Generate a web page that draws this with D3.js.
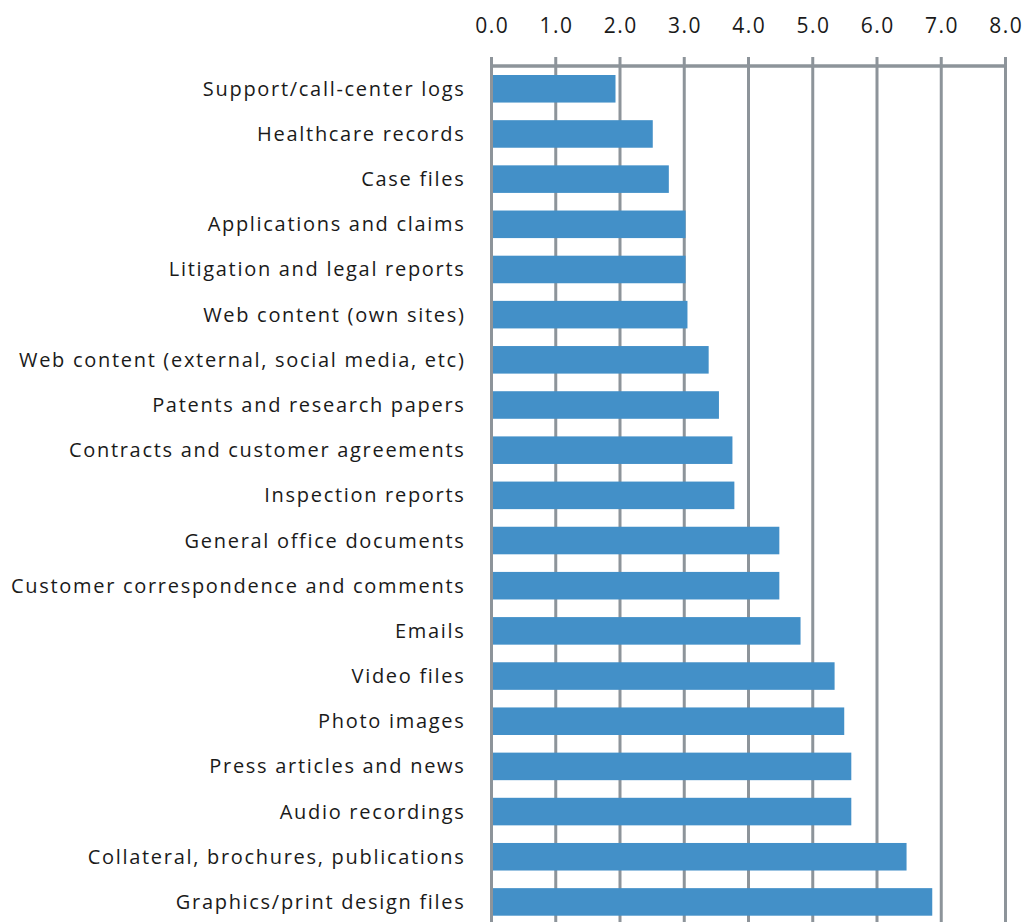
<!DOCTYPE html>
<html>
<head>
<meta charset="utf-8">
<script src="https://cdn.jsdelivr.net/npm/d3@7"></script>
<style>
  html, body { margin: 0; padding: 0; background: #ffffff; }
  svg { display: block; }
  .cat { font-family: "Open Sans", sans-serif; font-size: 20px; letter-spacing: 1.7px; fill: #1a1a1a; }
  .tick-label { font-family: "Open Sans", sans-serif; font-size: 21px; letter-spacing: 1.5px; fill: #1a1a1a; }
</style>
</head>
<body>
<svg id="chart" width="1026" height="922"></svg>
<script>
// Content types, top to bottom
const categories = [
  "Support/call-center logs",
  "Healthcare records",
  "Case files",
  "Applications and claims",
  "Litigation and legal reports",
  "Web content (own sites)",
  "Web content (external, social media, etc)",
  "Patents and research papers",
  "Contracts and customer agreements",
  "Inspection reports",
  "General office documents",
  "Customer correspondence and comments",
  "Emails",
  "Video files",
  "Photo images",
  "Press articles and news",
  "Audio recordings",
  "Collateral, brochures, publications",
  "Graphics/print design files"
];

const values = [
  1.93, 2.51, 2.76, 3.02, 3.02, 3.05, 3.38, 3.54, 3.75, 3.78,
  4.48, 4.48, 4.81, 5.34, 5.49, 5.60, 5.60, 6.46, 6.86
];

const tickValues = [0, 1, 2, 3, 4, 5, 6, 7, 8];

const svg = d3.select("#chart");

const x = d3.scaleLinear().domain([0, 8]).range([491.5, 1005.5]);
const y = d3.scaleBand()
  .domain(categories)
  .range([75, 915.7])
  .paddingInner(0.39)
  .paddingOuter(0);

const gridColor = "#8d949a";
const barColor = "#4390c8";

// Vertical gridlines, running from the tick tops to the bottom edge
svg.append("g")
  .selectAll("line")
  .data(tickValues)
  .join("line")
  .attr("x1", d => x(d))
  .attr("x2", d => x(d))
  .attr("y1", 57)
  .attr("y2", 922)
  .attr("stroke", gridColor)
  .attr("stroke-width", 3);

// Top axis baseline
svg.append("line")
  .attr("x1", x(0))
  .attr("x2", x(8))
  .attr("y1", 66)
  .attr("y2", 66)
  .attr("stroke", gridColor)
  .attr("stroke-width", 3.5);

// Tick labels above the axis
svg.append("g")
  .selectAll("text")
  .data(tickValues)
  .join("text")
  .attr("class", "tick-label")
  .attr("x", d => x(d) + 0.75)
  .attr("y", 33)
  .attr("text-anchor", "middle")
  .text(d => d3.format(".1f")(d));

// Bars
svg.append("g")
  .selectAll("rect")
  .data(categories)
  .join("rect")
  .attr("x", x(0) + 1.5)
  .attr("y", d => y(d))
  .attr("width", (d, i) => x(values[i]) - x(0) - 1.5)
  .attr("height", y.bandwidth())
  .attr("fill", barColor);

// Category labels
svg.append("g")
  .selectAll("text")
  .data(categories)
  .join("text")
  .attr("class", "cat")
  .attr("x", 465.5)
  .attr("y", d => y(d) + y.bandwidth() / 2)
  .attr("dy", "0.35em")
  .attr("text-anchor", "end")
  .text(d => d);
</script>
</body>
</html>
